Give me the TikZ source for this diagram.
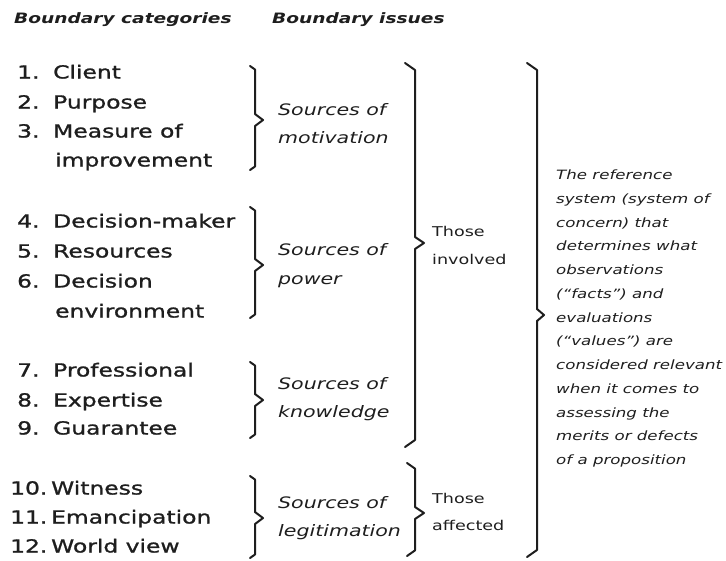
\documentclass[tikz,border=0pt]{standalone}
\usepackage{fontspec}
\setmainfont{DejaVu Sans}[FakeStretch=1.3]
\newfontfamily\itemfont{DejaVu Sans}[FakeStretch=1.3,FakeBold=1.2]
\definecolor{ink}{HTML}{1E1E1E}
\newcommand{\itm}[3][36pt]{\makebox[#1][l]{#2}#3}
\newcommand{\mybrace}[6]{% x, ytop, ybot, tipy, tipwidth, hook
  \draw[brc] (#1-#6,#2) -- (#1,#2+#6*0.7) -- (#1,#4-6) -- (#1+#5,#4) -- (#1,#4+6) -- (#1,#3-#6*0.7) -- (#1-#6,#3);}
\begin{document}
\begin{tikzpicture}[x=1pt,y=-1pt,
  base/.style={anchor=west, inner sep=0pt, text=ink, text height=0.75em, text depth=0.25em},
  item/.style={base, font=\itemfont\fontsize{18}{20}\selectfont},
  hdr/.style={base, font=\fontsize{14.3}{16}\selectfont\bfseries\itshape},
  src/.style={base, font=\fontsize{15.8}{18}\selectfont\itshape},
  who/.style={base, font=\fontsize{13.5}{16}\selectfont},
  reftxt/.style={base, font=\fontsize{12.8}{14}\selectfont\itshape},
  brc/.style={draw=ink, line width=2pt, line join=round, line cap=round}]
\useasboundingbox[fill=white] (0,0) rectangle (726,560);
% headers
\node[hdr] (h1) at (14,21) {Boundary categories};
\node[hdr] (h2) at (272,21) {Boundary issues};
% items
\node[item] (i1) at (17,76) {\itm{1.}{Client}};
\node[item] (i2) at (17,106) {\itm{2.}{Purpose}};
\node[item] (i3) at (17,135) {\itm{3.}{Measure of}};
\node[item] (i3b) at (55,164) {improvement};
\node[item] (i4) at (17,225) {\itm{4.}{Decision-maker}};
\node[item] (i5) at (17,255) {\itm{5.}{Resources}};
\node[item] (i6) at (17,285) {\itm{6.}{Decision}};
\node[item] (i6b) at (55,315) {environment};
\node[item] (i7) at (17,374) {\itm{7.}{Professional}};
\node[item] (i8) at (17,404) {\itm{8.}{Expertise}};
\node[item] (i9) at (17,432) {\itm{9.}{Guarantee}};
\node[item] (i10) at (10,492) {\itm[41pt]{10.}{Witness}};
\node[item] (i11) at (10,521) {\itm[41pt]{11.}{Emancipation}};
\node[item] (i12) at (10,550) {\itm[41pt]{12.}{World view}};
% first-level braces
\mybrace{255}{66}{170}{120}{8}{5}
\mybrace{255}{207}{318}{265}{8}{5}
\mybrace{255}{362}{438}{400}{8}{5}
\mybrace{255}{476}{558}{518}{8}{5}
% sources
\node[src] (s1a) at (278,113) {Sources of};
\node[src] (s1b) at (278,141) {motivation};
\node[src] (s2a) at (278,253) {Sources of};
\node[src] (s2b) at (278,282) {power};
\node[src] (s3a) at (278,387) {Sources of};
\node[src] (s3b) at (278,415) {knowledge};
\node[src] (s4a) at (278,506) {Sources of};
\node[src] (s4b) at (278,534) {legitimation};
% second-level braces
\mybrace{415}{63}{447}{243}{9}{10}
\mybrace{415}{463}{556}{513}{9}{8}
\node[who] (w1a) at (432,234) {Those};
\node[who] (w1b) at (432,262) {involved};
\node[who] (w2a) at (432,501) {Those};
\node[who] (w2b) at (432,528) {affected};
% third-level brace
\mybrace{537}{63}{557}{315}{7}{10}
\foreach \t [count=\i from 0] in {The reference,system (system of,concern) that,determines what,observations,{(“facts”) and},evaluations,{(“values”) are},considered relevant,when it comes to,assessing the,merits or defects,of a proposition}
  \node[reftxt] (r\i) at (556,177+\i*23.75) {\t};
\end{tikzpicture}
\end{document}
